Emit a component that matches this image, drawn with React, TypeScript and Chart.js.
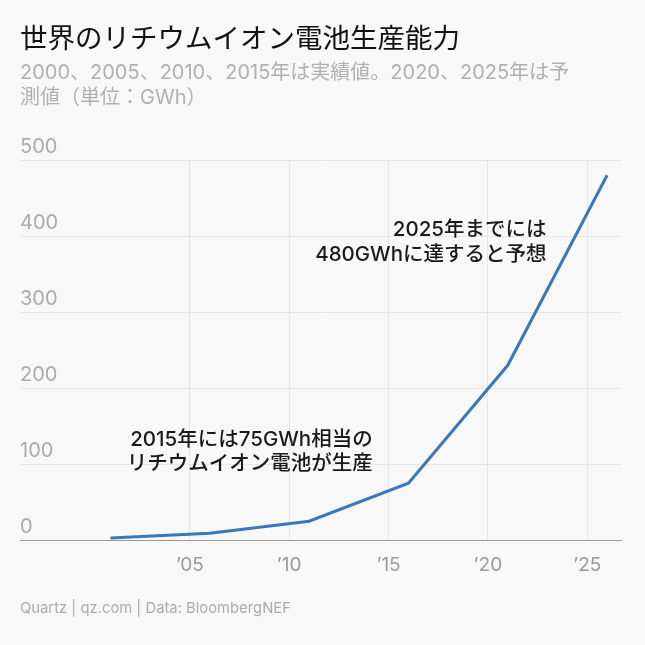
import React, { useEffect, useRef } from "react";
import { Chart, registerables } from "chart.js";

Chart.register(...registerables);

const years = [2000, 2005, 2010, 2015, 2020, 2025];
const capacityGWh = [3, 9, 25, 75, 230, 480];
const xTickYears = [2005, 2010, 2015, 2020, 2025];
const yTicks = [0, 100, 200, 300, 400, 500];

const titleText = "世界のリチウムイオン電池生産能力";
const subtitleText = "2000、2005、2010、2015年は実績値。2020、2025年は予測値（単位：GWh）";
const footerText = "Quartz | qz.com | Data: BloombergNEF";

const annotations = [
  { x: 2022.95, y: 408, lines: ["2025年までには", "480GWhに達すると予想"] },
  { x: 2014.2, y: 132, lines: ["2015年には75GWh相当の", "リチウムイオン電池が生産"] },
];

const FONT = "Inter, 'Noto Sans CJK JP', 'Noto Sans', sans-serif";

export default function App() {
  const ref = useRef<HTMLCanvasElement | null>(null);

  useEffect(() => {
    document.body.style.margin = "0";
    document.body.style.background = "#f8f8f8";
    const canvas = ref.current;
    if (!canvas) return;

    const annotationPlugin = {
      id: "annotationText",
      afterDatasetsDraw(chart: any) {
        const { ctx } = chart;
        const xs = chart.scales.x;
        const ys = chart.scales.y;
        ctx.save();
        ctx.font = `500 20.5px ${FONT}`;
        ctx.fillStyle = "#1a1a1a";
        ctx.textAlign = "right";
        ctx.textBaseline = "middle";
        for (const a of annotations) {
          const px = xs.getPixelForValue(a.x);
          const py = ys.getPixelForValue(a.y);
          a.lines.forEach((l, i) => ctx.fillText(l, px, py + i * 24.5));
        }
        ctx.restore();
      },
    };

    const chart = new Chart(canvas, {
      type: "line",
      data: {
        datasets: [
          {
            data: years.map((yr, i) => ({ x: yr + 1, y: capacityGWh[i] })),
            borderColor: "#3a78b9",
            borderWidth: 3,
            pointRadius: 0,
            tension: 0,
            fill: false,
          },
        ],
      },
      options: {
        animation: false,
        responsive: false,
        maintainAspectRatio: false,
        layout: { padding: { left: 20, right: 24, top: 160, bottom: 54 } },
        plugins: { legend: { display: false }, tooltip: { enabled: false }, title: { display: false } },
        scales: {
          x: {
            type: "linear",
            min: 1996.45,
            max: 2026.7,
            afterBuildTicks: (axis: any) => {
              axis.ticks = xTickYears.map((v) => ({ value: v }));
            },
            grid: { color: "#e6e6e6", drawTicks: false, lineWidth: 1 },
            border: { display: true, color: "#9a9a9a", width: 1 },
            ticks: {
              color: "#9a9a9a",
              font: { family: FONT, size: 19 },
              padding: 14,
              maxRotation: 0,
              callback: (v: any) => "’" + String(v).slice(2),
            },
          },
          y: {
            min: 0,
            max: 500,
            afterBuildTicks: (axis: any) => {
              axis.ticks = yTicks.map((v) => ({ value: v }));
            },
            grid: { color: "#e6e6e6", drawTicks: false, lineWidth: 1 },
            border: { display: false },
            ticks: {
              mirror: true,
              padding: 0,
              labelOffset: -13,
              color: "#ababab",
              font: { family: FONT, size: 20 },
            },
          },
        },
      },
      plugins: [annotationPlugin],
    } as any);
    return () => chart.destroy();
  }, []);

  return (
    <div style={{ position: "relative", width: 645, height: 645, background: "#f8f8f8", fontFamily: FONT, overflow: "hidden" }}>
      <canvas ref={ref} width={645} height={645} style={{ position: "absolute", left: 0, top: 0 }} />
      <div style={{ position: "absolute", left: 20, top: 19, fontSize: 27.5, color: "#111", lineHeight: "38px", whiteSpace: "nowrap" }}>
        {titleText}
      </div>
      <div style={{ position: "absolute", left: 20, top: 60, width: 556, fontSize: 20, color: "#b0b0b0", lineHeight: "25px" }}>
        {subtitleText}
      </div>
      <div style={{ position: "absolute", left: 20, top: 598, fontSize: 14.8, color: "#ababab", lineHeight: "20px", whiteSpace: "nowrap" }}>
        {footerText}
      </div>
    </div>
  );
}
